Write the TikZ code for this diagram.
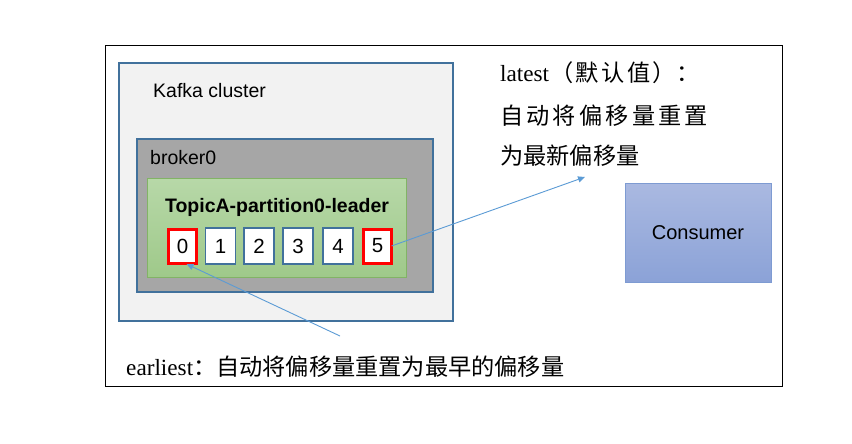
\documentclass[tikz,border=0pt]{standalone}
\usepackage{fontspec}
\setmainfont{Liberation Serif}
\newfontfamily\arialf{Liberation Sans}
\newfontfamily\cjk{Noto Sans CJK SC}
\usetikzlibrary{arrows.meta}
\definecolor{bordblue}{HTML}{41719C}
\definecolor{arrowblue}{HTML}{5B9BD5}
\definecolor{clusterfill}{HTML}{F2F2F2}
\definecolor{brokerfill}{HTML}{A6A6A6}
\definecolor{greentop}{HTML}{B7D8A8}
\definecolor{greenbot}{HTML}{9FC98A}
\definecolor{greenborder}{HTML}{82B366}
\definecolor{constop}{HTML}{AAB9E1}
\definecolor{consbot}{HTML}{8BA2D7}
\definecolor{consborder}{HTML}{7E9BD2}
\tikzset{
  frame/.style={draw=black, line width=0.8pt, inner sep=0pt, outer sep=0pt},
  region/.style={draw=bordblue, line width=1.2pt, inner sep=0pt, outer sep=0pt},
  sanslabel/.style={inner sep=0pt, font=\arialf\fontsize{19.5}{22}\selectfont},
  numbox/.style={draw=bordblue, line width=1.2pt, fill=white, inner sep=0pt, outer sep=0pt,
    minimum width=30pt, minimum height=36pt, font=\arialf\fontsize{20.5}{22}\selectfont},
  redbox/.style={numbox, draw=red, line width=3pt, minimum width=28pt, minimum height=34pt},
  note/.style={inner sep=0pt, anchor=west, font=\fontsize{23.2}{27}\selectfont},
  arr/.style={draw=arrowblue, line width=0.9pt, -{Triangle[length=7pt,width=6pt]}}
}
\begin{document}
\begin{tikzpicture}[x=1pt,y=-1pt]
\useasboundingbox[fill=white] (0,0) rectangle (852,444);
% outer frame
\node[frame, minimum width=677pt, minimum height=341pt] (outer) at (443.5,215.5) {};
% Kafka cluster
\node[region, fill=clusterfill, minimum width=334pt, minimum height=258pt] (cluster) at (286,192) {};
\node[sanslabel, anchor=west] (clusterlbl) at (153,91) {Kafka cluster};
% broker0
\node[region, fill=brokerfill, minimum width=296pt, minimum height=153pt] (broker) at (285,215.5) {};
\node[sanslabel, anchor=west] (brokerlbl) at (150,158) {broker0};
% partition
\node[draw=greenborder, line width=1pt, top color=greentop, bottom color=greenbot,
  inner sep=0pt, outer sep=0pt, minimum width=259pt, minimum height=99pt] (green) at (276.5,227.5) {};
\node[sanslabel, font=\arialf\bfseries\fontsize{19.5}{22}\selectfont] (topic) at (277,207) {TopicA-partition0-leader};
\node[redbox] (n0) at (182.5,246) {0};
\node[numbox] (n1) at (220.5,246) {1};
\node[numbox] (n2) at (259,246) {2};
\node[numbox] (n3) at (298,246) {3};
\node[numbox] (n4) at (338,246) {4};
\node[redbox] (n5) at (377.5,246) {5};
% consumer
\node[draw=consborder, line width=1pt, top color=constop, bottom color=consbot,
  inner sep=0pt, outer sep=0pt, minimum width=146pt, minimum height=99pt,
  font=\arialf\fontsize{20}{22}\selectfont] (consumer) at (698,232.5) {Consumer};
% notes
\node[note] (latest1) at (500,73) {latest{\cjk \hspace{1pt}（\hspace{2.5pt}默\hspace{2.5pt}认\hspace{2.5pt}值\hspace{2.5pt}）：}};
\node[note] (latest2) at (500,116) {\cjk 自\hspace{3.2pt}动\hspace{3.2pt}将\hspace{3.2pt}偏\hspace{3.2pt}移\hspace{3.2pt}量\hspace{3.2pt}重\hspace{3.2pt}置};
\node[note] (latest3) at (500,156) {\cjk 为最新偏移量};
\node[note] (earliest) at (126,367) {earliest{\cjk ：自动将偏移量重置为最早的偏移量}};
% arrows
\coordinate (latestTip) at (585,177);
\coordinate (earlyStart) at (340,336);
\draw[arr] (n5.east) -- (latestTip);
\draw[arr] (earlyStart) -- ([xshift=4pt,yshift=-1pt]n0.south);
\end{tikzpicture}
\end{document}
